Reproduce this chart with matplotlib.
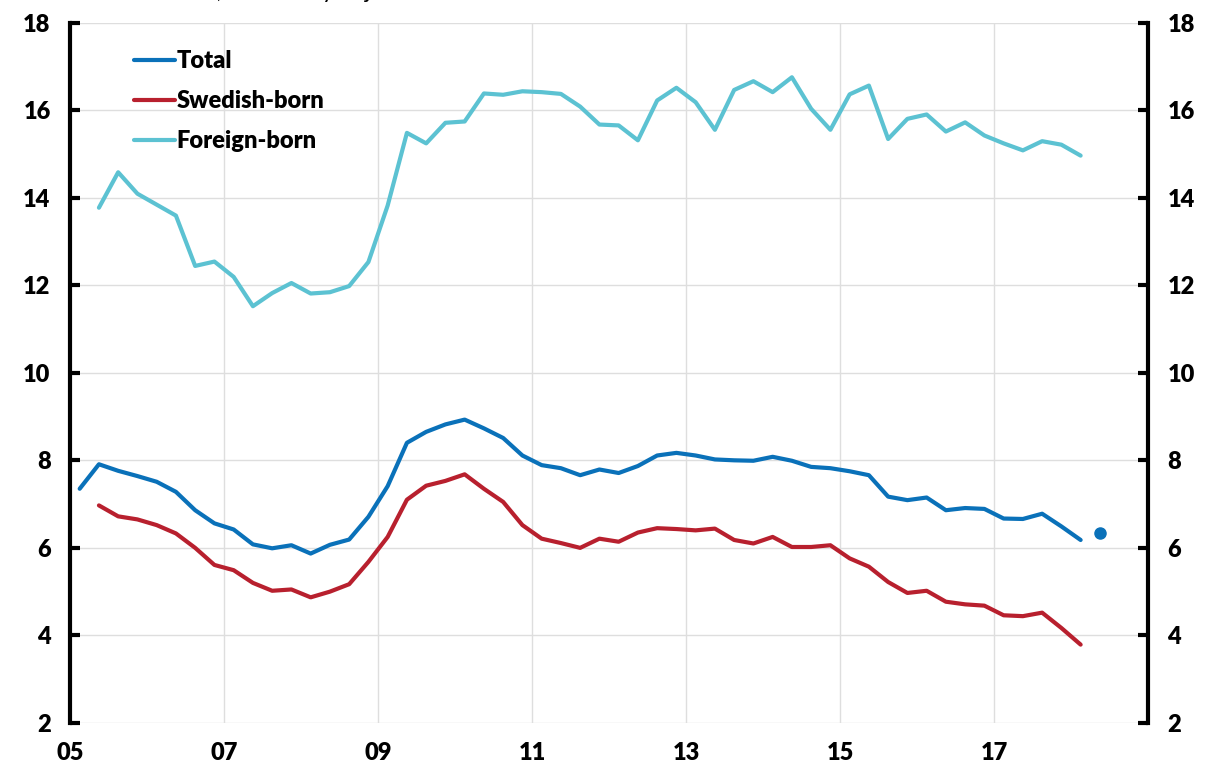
import matplotlib.pyplot as plt
import numpy as np

# quarterly data, Total from 2005Q1, the other two from 2005Q2, all to 2018Q1
total = [7.35, 7.91, 7.76, 7.64, 7.51, 7.28, 6.86, 6.56, 6.42, 6.08, 5.99, 6.06,
         5.87, 6.07, 6.19, 6.71, 7.41, 8.40, 8.65, 8.82, 8.93, 8.73, 8.51, 8.11,
         7.89, 7.82, 7.66, 7.79, 7.71, 7.87, 8.11, 8.17, 8.11, 8.02, 8.00, 7.99,
         8.08, 7.99, 7.85, 7.82, 7.75, 7.66, 7.17, 7.09, 7.15, 6.86, 6.91, 6.89,
         6.67, 6.66, 6.78, 6.49, 6.18]
swedish = [6.97, 6.72, 6.65, 6.52, 6.33, 6.00, 5.61, 5.49, 5.20, 5.02, 5.05,
           4.87, 5.00, 5.17, 5.68, 6.25, 7.10, 7.42, 7.53, 7.68, 7.35, 7.05, 6.52,
           6.21, 6.11, 6.00, 6.21, 6.14, 6.35, 6.45, 6.43, 6.40, 6.44, 6.18, 6.10,
           6.25, 6.02, 6.02, 6.06, 5.76, 5.57, 5.22, 4.97, 5.02, 4.77, 4.71, 4.68,
           4.46, 4.44, 4.52, 4.17, 3.79]
foreign = [13.77, 14.58, 14.09, 13.84, 13.59, 12.44, 12.54, 12.19, 11.52, 11.82,
           12.05, 11.81, 11.84, 11.98, 12.53, 13.82, 15.48, 15.24, 15.71, 15.74,
           16.38, 16.35, 16.43, 16.41, 16.37, 16.08, 15.67, 15.65, 15.31, 16.22,
           16.51, 16.18, 15.55, 16.46, 16.66, 16.41, 16.75, 16.03, 15.55, 16.36,
           16.56, 15.34, 15.80, 15.90, 15.51, 15.72, 15.42, 15.24, 15.08, 15.29,
           15.21, 14.96]
dot_q = 2018.375   # 2018Q2 point
dot_val = 6.33

yticks = [2, 4, 6, 8, 10, 12, 14, 16, 18]
xticks = [2005, 2007, 2009, 2011, 2013, 2015, 2017]
xlabels = ["05", "07", "09", "11", "13", "15", "17"]

t_total = 2005.125 + 0.25 * np.arange(len(total))
t_other = 2005.375 + 0.25 * np.arange(len(swedish))

plt.rcParams['font.family'] = ['Lato', 'DejaVu Sans']
W = 'heavy'

fig = plt.figure(figsize=(12.12, 7.72), dpi=100)
ax = fig.add_axes([0.0578, 0.0635, 0.8894, 0.9073])

blue = "#0a71b9"
red = "#b8202e"
cyan = "#5cc2d2"

ax.plot(t_total, total, color=blue, lw=3.0, label="Total", solid_capstyle='round')
ax.plot(t_other, swedish, color=red, lw=3.0, label="Swedish-born", solid_capstyle='round')
ax.plot(t_other, foreign, color=cyan, lw=3.0, label="Foreign-born", solid_capstyle='round')
ax.plot([dot_q], [dot_val], 'o', color=blue, ms=8)

ax.set_xlim(2005, 2019)
ax.set_ylim(2, 18)
ax.set_yticks(yticks)
ax.set_xticks(xticks)
ax.set_xticklabels(xlabels)

ax.grid(True, color="#dedede", lw=1)
ax.set_axisbelow(True)

for s in ["top", "bottom"]:
    ax.spines[s].set_visible(False)
for s in ["left", "right"]:
    ax.spines[s].set_linewidth(3)
    ax.spines[s].set_color("black")

ax.tick_params(axis='y', which='both', direction='in', length=7, width=3,
               left=True, right=True, labelleft=True, labelright=True,
               labelsize=17, pad=14)
ax.tick_params(axis='x', length=0, labelsize=17, pad=14)
for lab in ax.get_xticklabels() + ax.get_yticklabels():
    lab.set_fontweight(W)
for t in ax.yaxis.get_major_ticks():
    t.label1.set_fontweight(W)
    t.label2.set_fontweight(W)

leg = ax.legend(loc='upper left', bbox_to_anchor=(0.0395, 0.991), frameon=False,
                handlelength=1.75, handletextpad=0.05, labelspacing=0.76,
                prop={'weight': W, 'size': 17})

# title sits mostly above the visible area, as in the source chart
fig.text(130 / 1212, 1.0 + 2.0 / 772, "Per cent, seasonally adjusted data",
         fontsize=17, ha='left', va='baseline')

fig.savefig("out.png", dpi=100)
